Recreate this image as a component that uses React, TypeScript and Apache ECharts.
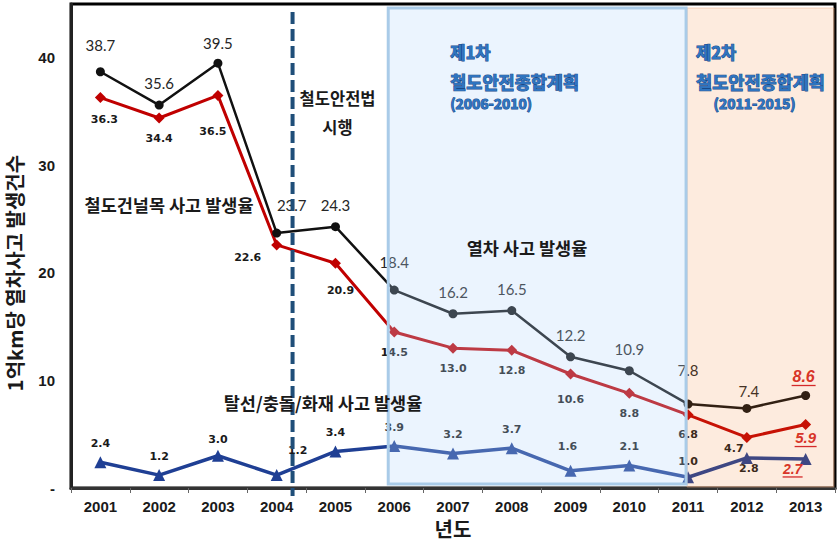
import React, { useEffect, useRef } from 'react';
import * as echarts from 'echarts';

const YEARS = ['2001', '2002', '2003', '2004', '2005', '2006', '2007', '2008', '2009', '2010', '2011', '2012', '2013'];
const TRAIN_RATE = [38.7, 35.6, 39.5, 23.7, 24.3, 18.4, 16.2, 16.5, 12.2, 10.9, 7.8, 7.4, 8.6];
const CROSSING_RATE = [36.3, 34.4, 36.5, 22.6, 20.9, 14.5, 13.0, 12.8, 10.6, 8.8, 6.8, 4.7, 5.9];
const DERAIL_RATE = [2.4, 1.2, 3.0, 1.2, 3.4, 3.9, 3.2, 3.7, 1.6, 2.1, 1.0, 2.8, 2.7];
const Y_MIN = 0;
const Y_MAX = 45;
const Y_STEP = 10;

// label layout (offsets from the data point, in px)
const TRAIN_LABEL_DEFAULT: [number, number] = [0, -22];
const TRAIN_LABEL_OFFSETS: Record<number, [number, number]> = { 0: [0, -27], 2: [0, -20], 3: [15, -28], 5: [0, -28], 10: [0, -34], 11: [2, -17], 12: [-2, -19] };
const CROSS_LABEL_DEFAULT: [number, number] = [0, 20];
const CROSS_LABEL_OFFSETS: Record<number, [number, number]> = { 0: [4, 22], 2: [-5, 36], 3: [-29, 13], 4: [5, 27], 8: [0, 26], 11: [-13, 11], 12: [0, 13] };
const DERAIL_LABEL_DEFAULT: [number, number] = [0, -19];
const DERAIL_LABEL_OFFSETS: Record<number, [number, number]> = { 2: [0, -16], 3: [21, -25], 8: [-3, -24], 10: [0, -16], 11: [2, 11], 12: [-13, 10] };
const HIGHLIGHT_INDEX = 12;

const KR = "'Noto Sans CJK KR', sans-serif";
const HILITE_RED = '#D42A2A';

export default function App() {
  const ref = useRef<HTMLDivElement>(null);

  useEffect(() => {
    const chart = echarts.init(ref.current!, null, { renderer: 'svg' });

    const makeData = (
      vals: number[],
      offsets: Record<number, [number, number]>,
      def: [number, number],
      hiSize: number
    ) =>
      vals.map((v, i) => ({
        value: v,
        label: {
          offset: offsets[i] || def,
          ...(i === HIGHLIGHT_INDEX
            ? { color: HILITE_RED, fontStyle: 'italic', fontWeight: 'bold', fontSize: hiSize, fontFamily: "'Liberation Sans', Arial, sans-serif" }
            : {}),
        },
      }));

    const smallLabel = {
      show: true,
      position: 'inside',
      fontFamily: "'DejaVu Sans', sans-serif",
      fontWeight: 'bold',
      fontSize: 11,
      color: '#1a1a1a',
      formatter: (p: any) => p.value.toFixed(1),
    };

    chart.setOption({
      animation: false,
      backgroundColor: '#ffffff',
      grid: {
        left: 71, right: 5, top: 4, bottom: 55,
        outerBoundsMode: 'none',
        containLabel: false,
        show: true, borderColor: '#000', borderWidth: 3, backgroundColor: 'transparent',
      },
      xAxis: {
        type: 'category',
        data: YEARS,
        boundaryGap: true,
        name: '년도',
        nameLocation: 'middle',
        nameGap: 28,
        nameTextStyle: { fontFamily: KR, fontWeight: 'bold', fontSize: 20, color: '#1a1a1a' },
        axisLine: { lineStyle: { color: '#333', width: 3 } },
        axisTick: { show: true, length: 5, lineStyle: { color: '#666', width: 1 } },
        axisLabel: { fontFamily: "'Liberation Sans', Arial, sans-serif", fontWeight: 'bold', fontSize: 15, color: '#1a1a1a', margin: 11 },
      },
      yAxis: {
        type: 'value',
        min: Y_MIN,
        max: Y_MAX,
        interval: Y_STEP,
        splitLine: { show: false },
        axisLine: { show: true, lineStyle: { color: '#222', width: 3 } },
        axisTick: { show: false },
        axisLabel: {
          fontFamily: "'Liberation Sans', Arial, sans-serif",
          fontWeight: 'bold',
          fontSize: 15,
          color: '#1a1a1a',
          margin: 16,
          formatter: (v: number) => (v === 0 ? '-' : v > 40 ? '' : String(v)),
        },
      },
      series: [
        {
          name: '열차 사고 발생율',
          type: 'line',
          data: makeData(TRAIN_RATE, TRAIN_LABEL_OFFSETS, TRAIN_LABEL_DEFAULT, 16),
          symbol: 'circle',
          symbolSize: 9,
          itemStyle: { color: '#111' },
          lineStyle: { color: '#111', width: 2.5 },
          label: { show: true, position: 'inside', fontFamily: "Lato, 'Open Sans', sans-serif", fontSize: 15, color: '#262626', formatter: (p: any) => p.value.toFixed(1) },
          z: 3,
        },
        {
          name: '철도건널목 사고 발생율',
          type: 'line',
          data: makeData(CROSSING_RATE, CROSS_LABEL_OFFSETS, CROSS_LABEL_DEFAULT, 15),
          symbol: 'diamond',
          symbolSize: 11,
          itemStyle: { color: '#C00000' },
          lineStyle: { color: '#C00000', width: 3 },
          label: smallLabel,
          z: 3,
        },
        {
          name: '탈선/충돌/화재 사고 발생율',
          type: 'line',
          data: makeData(DERAIL_RATE, DERAIL_LABEL_OFFSETS, DERAIL_LABEL_DEFAULT, 14),
          symbol: 'triangle',
          symbolSize: 12,
          itemStyle: { color: '#1F3F94' },
          lineStyle: { color: '#1F3F94', width: 3.5 },
          label: smallLabel,
          z: 3,
        },
      ],
    });

    const pt = (i: number, v: number) => chart.convertToPixel({ xAxisIndex: 0, yAxisIndex: 0 }, [YEARS[i], v]) as number[];
    const step = pt(1, 0)[0] - pt(0, 0)[0];
    const yTop = pt(0, Y_MAX)[1];
    const yBottom = pt(0, Y_MIN)[1];
    const xRight = pt(YEARS.length - 1, 0)[0] + step / 2;
    const blueL = pt(5, 0)[0] - 6;
    const blueR = pt(10, 0)[0] - 2;
    const lawX = pt(3, 0)[0] + step * 0.27;

    const planText = (text: string, x: number, y: number, size: number, align: string) => ({
      type: 'text',
      x,
      y,
      z: 120,
      style: {
        text,
        fill: '#2E74C0',
        stroke: '#1A4A88',
        lineWidth: 1,
        fontFamily: KR,
        fontWeight: 'bold',
        fontSize: size,
        align,
        verticalAlign: 'middle',
      },
    });
    const noteText = (text: string, x: number, y: number, size = 17.5) => ({
      type: 'text',
      x,
      y,
      z: 120,
      style: { text, fill: '#1a1a1a', fontFamily: KR, fontWeight: 'bold', fontSize: size, align: 'center', verticalAlign: 'middle' },
    });

    const underline = (i: number, v: number, off: [number, number], w: number, h: number) => {
      const p = pt(i, v);
      const cx = p[0] + off[0];
      const cy = p[1] + off[1] + h;
      return { type: 'line', z: 130, shape: { x1: cx - w / 2, y1: cy, x2: cx + w / 2, y2: cy }, style: { stroke: HILITE_RED, lineWidth: 1.3 } };
    };

    chart.setOption({
      graphic: [
        {
          type: 'rect',
          z: 100,
          shape: { x: blueL, y: yTop + 4, width: blueR - blueL, height: yBottom - yTop - 8 },
          style: { fill: 'rgba(180,215,250,0.27)', stroke: '#A9CBE8', lineWidth: 3 },
        },
        {
          type: 'rect',
          z: 99,
          shape: { x: blueR + 1, y: yTop + 4, width: xRight - blueR - 2, height: yBottom - yTop - 5 },
          style: { fill: 'rgba(242,122,35,0.15)', stroke: 'rgba(235,170,130,0.5)', lineWidth: 1 },
        },
        {
          type: 'line',
          z: 110,
          shape: { x1: lawX, y1: yTop + 8, x2: lawX, y2: yBottom + 8 },
          style: { stroke: '#1F4E79', lineWidth: 4, lineDash: [12, 5] },
        },
        planText('제1차', blueL + 62, 52, 16.5, 'left'),
        planText('철도안전종합계획', blueL + 62, 81, 17.5, 'left'),
        planText('(2006-2010)', blueL + 62, 103, 14, 'left'),
        planText('제2차', blueR + 10, 52, 16.5, 'left'),
        planText('철도안전종합계획', blueR + 10, 81, 17.5, 'left'),
        planText('(2011-2015)', (blueR + xRight) / 2 - 6, 103, 14, 'center'),
        noteText('철도안전법', lawX + 45, 98, 16.5),
        noteText('시행', lawX + 45, 127, 16.5),
        noteText('철도건널목 사고 발생율', 169, 204),
        noteText('열차 사고 발생율', 527, 247),
        noteText('탈선/충돌/화재 사고 발생율', 323, 402),
        {
          type: 'text',
          x: 14,
          y: 273,
          rotation: Math.PI / 2,
          z: 120,
          style: { text: '1억km당 열차사고 발생건수', fill: '#1a1a1a', fontFamily: KR, fontWeight: 'bold', fontSize: 20, align: 'center', verticalAlign: 'middle' },
        },
        underline(HIGHLIGHT_INDEX, TRAIN_RATE[HIGHLIGHT_INDEX], TRAIN_LABEL_OFFSETS[HIGHLIGHT_INDEX], 24, 9),
        underline(HIGHLIGHT_INDEX, CROSSING_RATE[HIGHLIGHT_INDEX], CROSS_LABEL_OFFSETS[HIGHLIGHT_INDEX], 22, 9),
        underline(HIGHLIGHT_INDEX, DERAIL_RATE[HIGHLIGHT_INDEX], DERAIL_LABEL_OFFSETS[HIGHLIGHT_INDEX], 20, 8),
      ],
    });

    return () => chart.dispose();
  }, []);

  return <div ref={ref} style={{ position: 'fixed', left: 0, top: 0, width: 840, height: 543 }} />;
}
